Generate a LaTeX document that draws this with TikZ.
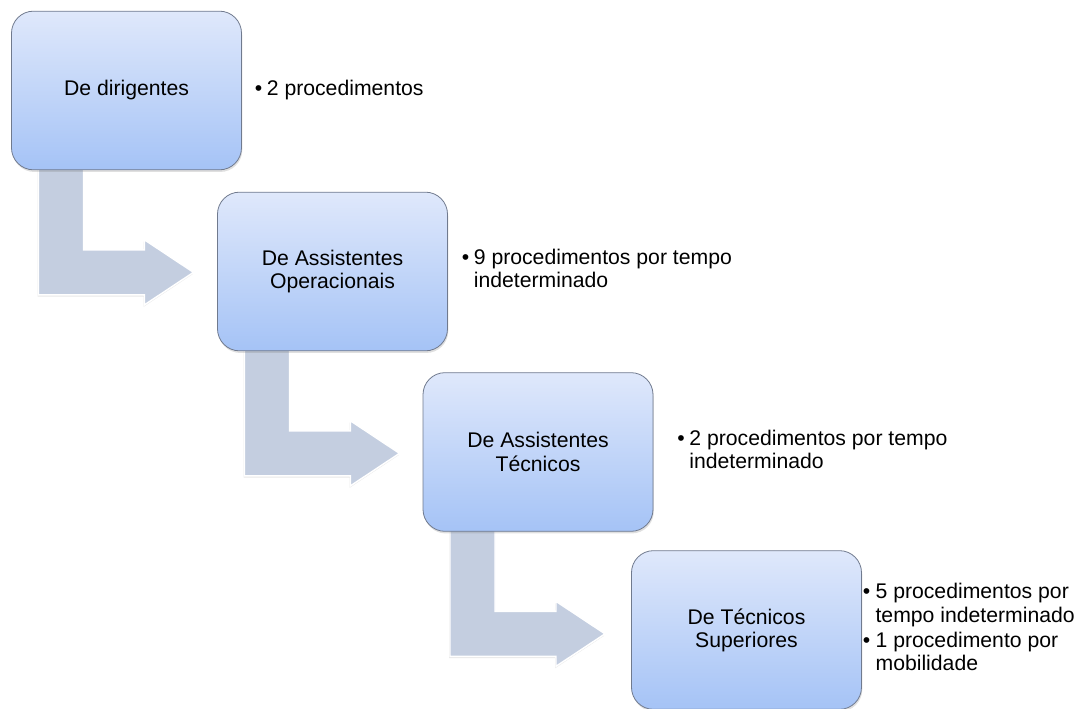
\documentclass[tikz,border=0pt]{standalone}
\usepackage{fontspec}
\setmainfont{Liberation Sans}
\usepackage{tikz}
\usetikzlibrary{shapes,backgrounds,positioning,calc,shadows}

\definecolor{BoxTop}{RGB}{223,232,251}
\definecolor{BoxBottom}{RGB}{165,195,246}
\definecolor{BoxLine}{RGB}{112,122,142}
\definecolor{ArrowFill}{RGB}{196,206,224}

\newcommand{\Txt}{\fontsize{15.9}{17.4}\selectfont}
% bent arrow hanging below a box, pointing right
\newcommand{\bentarrow}[1]{%
  \filldraw[Arrow] ($(#1.south west)+(27,-10)$) -- ++(45,0) -- ++(0,90) -- ++(61,0)
    -- ++(0,-10) -- ++(49,32.5) -- ++(-49,32.5) -- ++(0,-10) -- ++(-106,0) -- cycle;}

\begin{document}
\begin{tikzpicture}[x=0.75pt,y=-0.75pt]
			\tikzstyle{Box}		= [rectangle, rounded corners=16.5pt, draw=BoxLine, line width=0.6pt,
								   top color=BoxTop, bottom color=BoxBottom,
								   minimum width=172.5pt, minimum height=119pt, inner sep=0pt, outer sep=0pt,
								   align=center, font=\Txt,
								   drop shadow={shadow xshift=0.6pt, shadow yshift=-1.6pt, opacity=0.25}]
			\tikzstyle{Note}	= [anchor=west, inner sep=0pt, font=\Txt]
			\tikzstyle{Arrow}	= [fill=ArrowFill, draw=white, line width=1.1pt,
								   drop shadow={shadow xshift=-0.6pt, shadow yshift=-1.4pt, opacity=0.18}]

			\useasboundingbox (0,0) rectangle (1086,709);

			\node (dir) at (126.5,90.5) [Box] {De dirigentes};
			\node (op) at (332.5,271.5) [Box] {De Assistentes\\Operacionais};
			\node (tec) at (538,452) [Box] {De Assistentes\\Técnicos};
			\node (sup) at (746.5,630) [Box] {De Técnicos\\Superiores};

			\node (ndir) [Note, right=9.75pt of dir] {\begin{tabular}{@{}l@{\hspace{3.5pt}}l@{}}\textbullet & 2 procedimentos\end{tabular}};
			\node (nop) [Note, right=10.5pt of op] {\begin{tabular}{@{}l@{\hspace{3.5pt}}l@{}}\textbullet & 9 procedimentos por tempo\\ & indeterminado\end{tabular}};
			\node (ntec) [Note, right=18pt of tec] {\begin{tabular}{@{}l@{\hspace{3.5pt}}l@{}}\textbullet & 2 procedimentos por tempo\\ & indeterminado\end{tabular}};
			\node (nsup) [Note, right=0.8pt of sup] {\begin{tabular}{@{}l@{\hspace{4pt}}l@{}}\textbullet & 5 procedimentos por\\ & tempo indeterminado\\[1.5pt] \textbullet & 1 procedimento por\\ & mobilidade\end{tabular}};

			\begin{scope}[on background layer]
				\bentarrow{dir}
				\bentarrow{op}
				\bentarrow{tec}
			\end{scope}

		\end{tikzpicture}
\end{document}
